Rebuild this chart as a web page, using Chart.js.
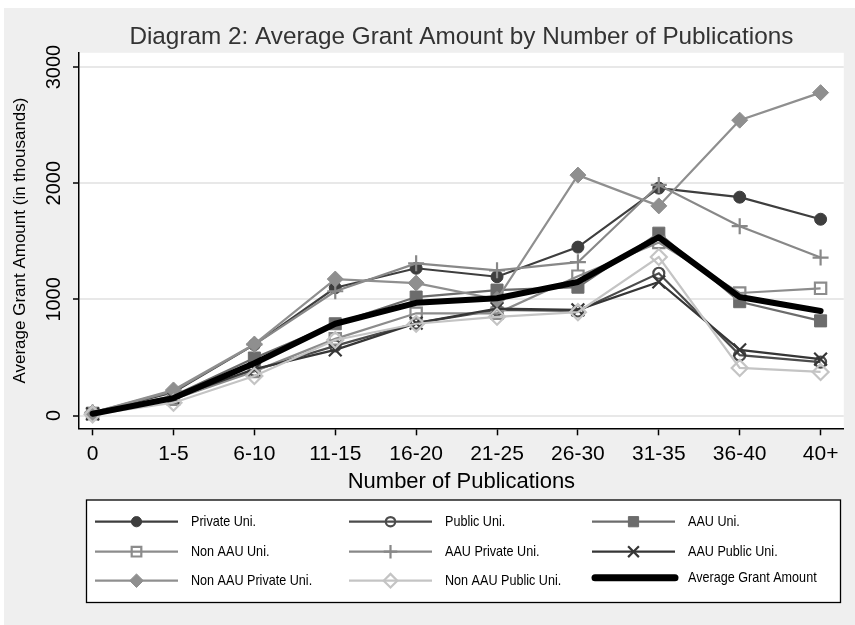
<!DOCTYPE html>
<html><head><meta charset="utf-8">
<script src="https://cdn.jsdelivr.net/npm/chart.js@4/dist/chart.umd.min.js"></script>
<style>html,body{margin:0;padding:0;background:#fff;}canvas{display:block}</style>
</head><body>
<canvas id="c" width="855" height="625"></canvas>
<script>
const categories = ['0','1-5','6-10','11-15','16-20','21-25','26-30','31-35','36-40','40+'];
const yTickValues = [0, 1000, 2000, 3000];
const privateUni      = [20, 200, 610, 1100, 1268, 1195, 1450, 1958, 1880, 1690];
const publicUni       = [15, 150, 390, 600, 795, 910, 900, 1225, 520, 460];
const aauUni          = [20, 170, 495, 790, 1020, 1080, 1105, 1570, 980, 815];
const nonAauUni       = [15, 140, 380, 660, 880, 880, 1200, 1490, 1055, 1095];
const aauPrivateUni   = [25, 210, 610, 1070, 1310, 1250, 1320, 1985, 1630, 1360];
const aauPublicUni    = [15, 150, 400, 565, 795, 920, 910, 1150, 565, 485];
const nonAauPrivateUni= [25, 220, 615, 1175, 1140, 1000, 2070, 1805, 2543, 2780];
const nonAauPublicUni = [10, 110, 340, 650, 790, 850, 890, 1365, 410, 375];
const averageGrant    = [15, 150, 450, 790, 970, 1010, 1150, 1535, 1020, 900];
const chartTitle = 'Diagram 2: Average Grant Amount by Number of Publications';

const FONT = "'Liberation Sans', Arial, sans-serif";
const toXY = arr => arr.map((v, i) => ({x: i, y: v}));

function series(label, values, color, style, radius, filled, order, extra) {
  return Object.assign({
    label, data: toXY(values), borderColor: color, borderWidth: 2.2,
    pointStyle: style, pointRadius: radius, pointHoverRadius: radius,
    pointBackgroundColor: filled ? color : 'rgba(0,0,0,0)',
    pointBorderColor: color, pointBorderWidth: filled ? 1 : 2.2,
    fill: false, tension: 0, order
  }, extra || {});
}

const datasets = [
  series('Private Uni.', privateUni, '#3e3e3e', 'circle', 6, true, 9),
  series('Public Uni.', publicUni, '#4c4c4c', 'circle', 5.5, false, 8),
  series('AAU Uni.', aauUni, '#6c6c6c', 'rect', 8.5, true, 7),
  series('Non AAU Uni.', nonAauUni, '#8c8c8c', 'rect', 8, false, 6),
  series('AAU Private Uni.', aauPrivateUni, '#888888', 'cross', 8, false, 5),
  series('AAU Public Uni.', aauPublicUni, '#363636', 'crossRot', 9, false, 4),
  series('Non AAU Private Uni.', nonAauPrivateUni, '#8f8f8f', 'rectRot', 8, true, 3),
  series('Non AAU Public Uni.', nonAauPublicUni, '#c4c4c4', 'rectRot', 8, false, 2),
  series('Average Grant Amount', averageGrant, '#000000', false, 0, true, 1,
    {borderWidth: 6, borderCapStyle: 'round', borderJoinStyle: 'round'})
];

const bgPlugin = {
  id: 'bg',
  beforeDraw(chart) {
    const ctx = chart.ctx, a = chart.chartArea;
    ctx.save();
    ctx.fillStyle = '#ffffff'; ctx.fillRect(0, 0, 855, 625);
    ctx.fillStyle = '#efefef'; ctx.fillRect(4, 8, 851, 617);
    ctx.fillStyle = '#ffffff'; ctx.fillRect(a.left, a.top, a.right - a.left, a.bottom - a.top);
    ctx.restore();
  },
  afterDraw(chart) {
    const ctx = chart.ctx, a = chart.chartArea;
    ctx.save();
    ctx.fillStyle = '#333';
    ctx.font = "24.3px " + FONT;
    ctx.textAlign = 'center'; ctx.textBaseline = 'middle';
    ctx.fillText(chartTitle, (a.left + a.right) / 2, 37.5);
    ctx.restore();
  }
};

const legendPlugin = {
  id: 'gridLegend',
  afterDraw(chart) {
    const ctx = chart.ctx;
    ctx.save();
    ctx.fillStyle = '#ffffff'; ctx.fillRect(86.5, 500, 754, 102.5);
    ctx.strokeStyle = '#000'; ctx.lineWidth = 1.3; ctx.strokeRect(86.5, 500, 754, 102.5);
    const cols = [95, 349, 592], rows = [521.7, 551.7, 580.7];
    chart.data.datasets.forEach((ds, i) => {
      const x0 = cols[i % 3], y = rows[Math.floor(i / 3)];
      const avg = ds.pointRadius === 0;
      ctx.beginPath();
      ctx.lineCap = avg ? 'round' : 'butt';
      ctx.strokeStyle = ds.borderColor; ctx.lineWidth = avg ? 7 : ds.borderWidth;
      const ly = avg ? y - 3 : y;
      ctx.moveTo(avg ? x0 + 3 : x0, ly); ctx.lineTo(avg ? x0 + 83 : x0 + 83, ly); ctx.stroke();
      if (!avg) {
        ctx.fillStyle = ds.pointBackgroundColor; ctx.strokeStyle = ds.pointBorderColor;
        ctx.lineWidth = ds.pointBorderWidth;
        Chart.helpers.drawPoint(ctx, {pointStyle: ds.pointStyle, radius: ds.pointRadius * 0.85, rotation: 0, borderWidth: ds.pointBorderWidth}, x0 + 41.5, y);
      }
      ctx.save();
      ctx.translate(x0 + 96, avg ? y - 3 : y);
      ctx.scale(0.84, 1);
      ctx.fillStyle = '#000';
      ctx.font = "15px " + FONT;
      ctx.textBaseline = 'middle'; ctx.textAlign = 'left';
      ctx.fillText(ds.label, 0, 0);
      ctx.restore();
    });
    ctx.restore();
  }
};

new Chart(document.getElementById('c'), {
  type: 'line',
  data: { datasets },
  plugins: [bgPlugin, legendPlugin],
  options: {
    responsive: false, animation: false, devicePixelRatio: 1,
    layout: { padding: { left: 4, top: 52.8, right: 8, bottom: 128 } },
    plugins: {
      legend: { display: false },
      tooltip: { enabled: false },
      title: { display: false }
    },
    scales: {
      x: {
        type: 'linear', min: -0.168, max: 9.287, bounds: 'data',
        afterBuildTicks: s => { s.ticks = categories.map((c, i) => ({ value: i })); },
        afterFit: s => { s.height = 68.7; },
        ticks: { callback: v => categories[v], color: '#000', font: { size: 21, family: FONT }, padding: 6, maxRotation: 0, autoSkip: false },
        grid: { drawOnChartArea: false, drawTicks: true, tickLength: 7, tickColor: '#000', tickWidth: 1.5 },
        border: { color: '#000', width: 1.5 },
        title: { display: true, text: 'Number of Publications', color: '#000', font: { size: 22, family: FONT }, padding: { top: 0, bottom: 2 } }
      },
      y: {
        type: 'linear', min: -110, max: 3123, bounds: 'data',
        afterBuildTicks: s => { s.ticks = yTickValues.map(v => ({ value: v })); },
        afterFit: s => { s.width = 75; },
        ticks: { callback: v => String(v), color: '#000', font: { size: 20, family: FONT }, minRotation: 90, maxRotation: 90, crossAlign: 'center', padding: -4 },
        grid: { color: '#e8e8e8', lineWidth: 2, drawTicks: true, tickLength: 6, tickColor: '#000', tickWidth: 1.5 },
        border: { color: '#000', width: 1.5 },
        title: { display: true, text: 'Average Grant Amount (in thousands)', color: '#000', font: { size: 17, family: FONT }, padding: { top: 6, bottom: 0 } }
      }
    }
  }
});
</script>
</body></html>
